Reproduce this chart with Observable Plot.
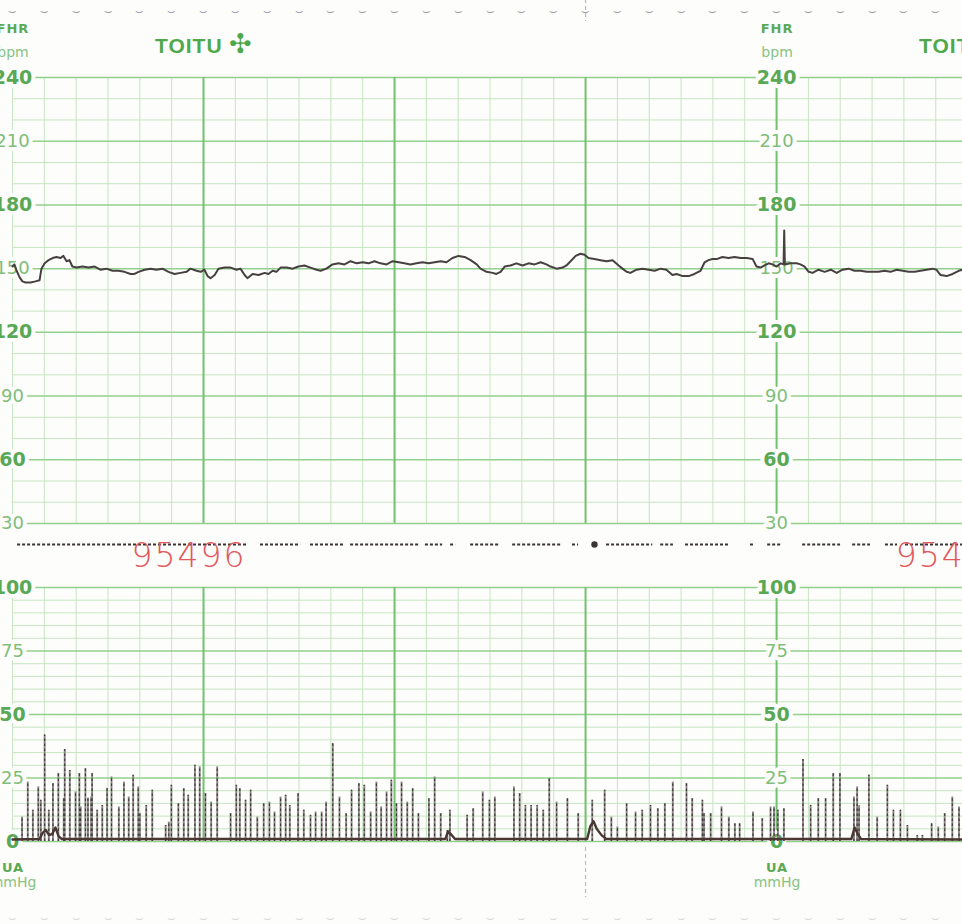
<!DOCTYPE html>
<html>
<head>
<meta charset="utf-8">
<script src="https://cdn.jsdelivr.net/npm/d3@7"></script>
<script src="https://cdn.jsdelivr.net/npm/@observablehq/plot@0.6"></script>
<style>
  html, body { margin: 0; padding: 0; background: #fdfdfb; }
  #page { position: relative; width: 962px; height: 924px; overflow: hidden; background: #fdfdfb; }
  #page > svg { position: absolute; left: 0; }
  .lbl { position: absolute; white-space: nowrap; line-height: 1; font-family: "DejaVu Sans", sans-serif; }
  .ctr { transform: translateX(-50%); text-align: center; }
  .head { color: #5aa957; font-weight: bold; font-size: 13px; letter-spacing: 1px; }
  .unit { color: #86c382; font-size: 14px; }
  .brand { color: #4fa84b; font-family: "Liberation Sans", Arial, sans-serif; font-weight: bold; font-size: 21px; letter-spacing: 1px; }
  .logo { color: #4fa84b; font-size: 27px; }
</style>
</head>
<body>
<div id="page"></div>
<script>
// ---------- DATA (time in seconds from the left edge of the strip) ----------
const xDomain = [0, 298.4];

// Grid
const gridMinorSec = [0, 10, 20, 30, 40, 50, 70, 80, 90, 100, 110, 130, 140, 150, 160, 170, 190, 200, 210, 220, 230, 250, 260, 270, 280, 290];
const gridMajorSec = [60, 120, 180, 240];
const fhrMinor = [40, 50, 70, 80, 100, 110, 130, 140, 160, 170, 190, 200, 220, 230];
const fhrMajor = [30, 60, 90, 120, 150, 180, 210, 240];
const uaMinor = [5, 10, 15, 20, 30, 35, 40, 45, 55, 60, 65, 70, 80, 85, 90, 95];
const uaMajor = [0, 25, 50, 75, 100];

// Tick labels (printed at two columns of the paper)
const labelColumns = [0, 240];
const fhrLabelStrong = [60, 120, 180, 240];
const fhrLabelLight = [30, 90, 150, 210];
const uaLabelStrong = [0, 50, 100];
const uaLabelLight = [25, 75];

// Perforation marks along the paper edges
const perforationSec = [0, 10, 20, 30, 40, 50, 60, 70, 80, 90, 100, 110, 120, 130, 140, 150, 160, 170, 180, 190, 200, 210, 220, 230, 240, 250, 260, 270, 280, 290];
const foldSec = [180];

// Printed page numbers and brand
const serialSec = [37.4, 277.4];
const serialText = "95496";
const brandSec = [44.9, 284.9];
const brandText = "TOITU";

// Fetal heart rate trace [seconds, bpm]
const fhrTrace = [[0,151],[0.6,152],[1.3,149],[2.2,146],[3.1,144],[4.1,143.5],[5.7,143.5],[7.2,144],[8.5,144.5],[9.1,150],[10.1,152.5],[11.3,154],[12.6,155],[13.8,155.5],[15.1,155],[16.0,156],[17.0,153.5],[17.9,154],[18.8,151],[20.1,150.5],[22.0,151],[23.9,150.5],[25.8,151],[27.6,149.5],[29.5,150],[31.4,149],[33.3,149],[35.2,148.5],[37.1,147.5],[38.3,147.5],[39.6,148.5],[41.5,149.5],[43.4,150],[45.2,149.5],[47.1,150],[49.0,148.5],[50.9,147.5],[52.8,148],[54.7,148.5],[55.9,150],[57.8,149],[59.1,148.5],[60.3,149.5],[61.3,146.5],[62.2,145.5],[63.5,147],[64.7,150],[66.6,150.5],[68.5,150.5],[70.4,149.5],[71.6,150],[72.9,147],[73.8,145.5],[75.4,147.5],[77.3,147],[79.2,148],[80.4,147.5],[81.7,149],[82.9,148.5],[84.2,150.5],[86.1,150.5],[88.0,150],[89.8,151],[91.7,151.5],[93.6,150.5],[95.5,149.5],[96.8,149],[98.6,150],[100.5,152],[102.4,152.5],[104.3,152],[106.2,153.5],[108.1,152.5],[110.0,153],[111.8,152.5],[113.7,153.5],[115.6,152.5],[117.5,152],[119.4,153.5],[121.3,153],[123.1,152.5],[125.0,152],[126.9,152.5],[128.8,153],[130.7,152.5],[132.6,153],[134.5,153.5],[136.3,153],[138.2,155],[140.1,156],[142.0,155.5],[143.9,154],[145.8,152],[147.0,150],[148.9,148.5],[150.8,148],[152.0,147.5],[153.3,148.5],[154.6,151],[156.4,151.5],[158.3,152.5],[160.2,151.5],[162.1,152.5],[164.0,152],[165.9,153],[167.7,152],[169.0,151],[170.9,150],[172.8,150.5],[174.0,151.5],[175.3,153.5],[176.9,156],[178.4,157],[179.7,156.5],[180.9,155],[182.8,154.5],[184.7,154],[186.6,153.5],[188.5,154],[190.4,151.5],[191.6,150],[192.9,148.5],[194.1,148],[196.0,149.5],[197.9,150],[199.8,149.5],[201.7,149],[203.6,150],[205.4,149.5],[207.3,147],[208.6,147.5],[210.5,146.5],[212.4,146.5],[214.2,147.5],[216.1,149],[217.4,153],[218.6,154],[219.9,154.5],[221.2,154.5],[223.0,155.5],[224.9,155],[226.8,155.5],[228.7,155],[230.6,155],[232.5,154.5],[233.7,151],[235.0,150.5],[236.2,151.5],[237.5,152.5],[238.7,152],[240.0,151],[241.3,152.5],[242.2,152],[242.4,168],[242.6,152],[244.3,152.5],[246.3,152.5],[247.5,152],[248.8,151],[250.1,148.5],[251.3,148],[253.2,149.5],[255.1,148.5],[257.0,149.5],[258.9,148],[260.7,149.5],[262.6,150],[264.5,149],[266.4,149],[268.3,148.5],[270.2,148.5],[272.0,148.5],[273.9,149],[275.8,148.5],[277.7,149.5],[279.6,149],[281.5,148.5],[283.4,148.5],[285.2,149],[287.1,149.5],[289.0,150],[290.2,149.5],[291.5,147],[293.4,146.5],[295.3,147.5],[297.2,149],[298.4,149.5]];

// Event marker segments between the panels [start s, end s]
const eventMarks = [[1.6,33.3],[33.3,74.1],[77.9,90.5],[93.6,104.6],[106.2,128.2],[129.7,135.1],[137.6,139.2],[143.9,153.3],[157.1,172.2],[175.9,177.8],[186.6,201.1],[203.6,207.6],[211.4,225.5],[231.8,232.8],[237.2,241.3],[248.2,260.1],[263.9,269.5],[274.2,278.0],[280.5,298.4]];
const eventDots = [182.8];

// Uterine activity: spike peaks [seconds, mmHg]
const uaPeaks = [[3.0,9.6],[4.8,23.4],[6.4,12.3],[8.1,21.5],[8.9,16.2],[10.1,41.9],[11.4,12.3],[12.7,22.8],[14.4,26.8],[16.1,16.9],[16.4,36.2],[18.0,28],[19.8,19.5],[21.0,26.8],[21.4,13.6],[22.9,28.7],[23.7,17],[24.7,17.5],[25.0,26.8],[26.6,12.3],[28.2,14.2],[29.7,20.9],[31.1,25.4],[33.4,13.6],[35.0,23.4],[36.5,17.5],[37.9,26.1],[39.5,21.5],[40.0,11],[42.0,14.2],[43.9,20.2],[48.1,6.3],[49.1,7.6],[49.9,22.1],[52.1,14.9],[53.8,20.8],[55.2,18.2],[57.3,30],[58.8,29.4],[60.6,18.9],[62.4,15.5],[64.3,29.4],[68.5,11],[70.3,22.1],[71.4,20.8],[73.2,16.2],[74.8,20.2],[76.9,9.6],[78.9,14.9],[80.7,15.5],[82.3,11.6],[84.2,17.5],[85.8,18.2],[87.1,14.2],[89.7,18.9],[91.5,12.3],[93.6,10.3],[95.2,11.6],[97.1,11.6],[98.5,15.5],[100.6,38.6],[102.7,17.5],[104.8,11],[106.5,20.2],[108.8,22.8],[110.5,22.1],[112.5,11.6],[114.3,23.4],[115.8,13.6],[117.5,19.5],[119.0,24.1],[120.6,14.9],[122.2,23.4],[124.0,15.5],[125.7,20.8],[127.5,11],[130.8,16.9],[132.6,25.4],[134.5,11],[136.6,4.3],[137.4,12.3],[142.8,10.3],[144.7,12.9],[147.7,19.5],[149.8,16.2],[151.5,17.5],[157.5,21.5],[159.3,18.9],[161.1,14.2],[162.9,14.2],[164.8,14.2],[166.7,12.3],[168.6,24.8],[170.9,15.5],[174.3,16.9],[177.7,11],[182.1,16.2],[186.0,20.2],[188.1,9.6],[190.0,5.7],[192.9,14.9],[195.7,11.6],[197.8,12.3],[200.4,14.2],[202.7,12.9],[204.9,14.9],[207.4,23.4],[211.7,22.8],[213.5,16.9],[216.7,16.2],[217.2,11],[219.3,11],[222.7,13.6],[225.0,9.6],[226.9,7],[228.4,7],[232.6,11.6],[235.5,9],[238.1,13.6],[239.2,13.6],[240.4,12.3],[242.3,12.9],[248.3,32.3],[250.7,14.2],[253.1,16.9],[255.4,16.9],[257.8,26.8],[259.9,26.8],[264.3,17.5],[265.3,21.5],[265.9,14],[269.0,26.1],[271.6,9.6],[274.8,22.1],[276.7,12.3],[278.9,12.3],[281.1,6.3],[284.2,2.4],[285.8,2.4],[288.7,7],[290.8,5.7],[292.8,11],[295.2,17.5],[297.3,13.6]];
// Uterine activity: resting trace with small bumps [seconds, mmHg]
const uaBase = [[0,0.8],[8.5,1],[9.5,3.5],[10.5,4.5],[11.5,2.5],[12.5,3],[13.5,5.5],[14.5,2],[15.5,1],[136,1],[136.8,4],[138,2.5],[139,1],[180.5,1],[181.5,6],[182.5,8],[183.5,5],[185,2.5],[186.5,1],[263.5,1],[264.5,5.5],[265.5,3],[266.5,1],[298.4,0.8]];

// ---------- STYLE ----------
const BG = "#fdfdfb";
const GRID_MINOR = "#c6e5c1";
const GRID_MAJOR_H = "#93cf8d";
const GRID_MAJOR_V = "#72c16f";
const LABEL_STRONG = "#58a855";
const LABEL_LIGHT = "#7fbe7b";
const TRACE = "#474040";
const FONT = "DejaVu Sans, sans-serif";

const page = document.getElementById("page");
const common = {
  width: 962, marginLeft: 12, marginRight: 0,
  x: {domain: xDomain, axis: null},
  style: {background: "transparent", overflow: "visible"}
};
function place(svg, top) { svg.style.top = top + "px"; page.appendChild(svg); return svg; }

function labelMarks(strong, light, sizeStrong, sizeLight) {
  return [
    Plot.text(d3.cross(labelColumns, light), {x: d => d[0], y: d => d[1], text: d => String(d[1]),
      fill: LABEL_LIGHT, stroke: BG, strokeWidth: 8, paintOrder: "stroke", fontSize: sizeLight, fontFamily: FONT}),
    Plot.text(d3.cross(labelColumns, strong), {x: d => d[0], y: d => d[1], text: d => String(d[1]),
      fill: LABEL_STRONG, stroke: BG, strokeWidth: 8, paintOrder: "stroke", fontSize: sizeStrong, fontWeight: "bold", fontFamily: FONT})
  ];
}

// Top edge strip: perforations + fold
const topStrip = Plot.plot({
  ...common, height: 22, marginTop: 0, marginBottom: 0,
  marks: [
    Plot.ruleX(foldSec, {stroke: "#b8b8b8", strokeWidth: 1.2, strokeDasharray: "4,3"}),
    Plot.text(perforationSec, {x: d => d, text: () => "\u2323", fill: "#a0a0a0", fontSize: 13, fontFamily: FONT})
  ]
});
place(topStrip, -1);

// FHR panel
const fhrPlot = Plot.plot({
  ...common, height: 530, marginTop: 77, marginBottom: 7,
  y: {domain: [30, 240], axis: null},
  marks: [
    Plot.ruleX(gridMinorSec, {stroke: GRID_MINOR, strokeWidth: 1}),
    Plot.ruleY(fhrMinor, {stroke: GRID_MINOR, strokeWidth: 1}),
    Plot.ruleY(fhrMajor, {stroke: GRID_MAJOR_H, strokeWidth: 1.5}),
    Plot.ruleX(gridMajorSec, {stroke: GRID_MAJOR_V, strokeWidth: 2}),
    ...labelMarks(fhrLabelStrong, fhrLabelLight, 19, 18),
    Plot.line(fhrTrace, {x: d => d[0], y: d => d[1], stroke: TRACE, strokeWidth: 2, strokeLinejoin: "round"})
  ]
});
place(fhrPlot, 0);

// Event marker strip + page number
const eventStrip = Plot.plot({
  ...common, height: 10, marginTop: 0, marginBottom: 0,
  marks: [
    Plot.ruleY(eventMarks, {x1: d => d[0], x2: d => d[1], y: null, stroke: "#3a3434", strokeWidth: 2, strokeDasharray: "3,2"}),
    Plot.dot(eventDots, {x: d => d, r: 3.2, fill: "#3a3434"})
  ]
});
place(eventStrip, 539);

const serialStrip = Plot.plot({
  ...common, height: 30, marginTop: 0, marginBottom: 0,
  marks: [
    Plot.text(serialSec, {x: d => d, text: () => serialText, textAnchor: "start", fill: "#e3585c",
      fontSize: 33, fontFamily: FONT, fontWeight: 300})
  ]
});
serialStrip.style.letterSpacing = "2px";
place(serialStrip, 541);

// UA panel
const uaPlot = Plot.plot({
  ...common, height: 300, marginTop: 27, marginBottom: 19,
  y: {domain: [0, 100], axis: null},
  marks: [
    Plot.ruleX(gridMinorSec, {stroke: GRID_MINOR, strokeWidth: 1}),
    Plot.ruleY(uaMinor, {stroke: GRID_MINOR, strokeWidth: 1}),
    Plot.ruleY(uaMajor, {stroke: GRID_MAJOR_H, strokeWidth: 1.5}),
    Plot.ruleX(gridMajorSec, {stroke: GRID_MAJOR_V, strokeWidth: 2}),
    ...labelMarks(uaLabelStrong, uaLabelLight, 19, 18),
    Plot.ruleX(uaPeaks, {x: d => d[0], y1: 0, y2: d => d[1], stroke: "#8b8585", strokeWidth: 1.9}),
    Plot.ruleX(uaPeaks, {x: d => d[0], y1: 0, y2: d => d[1], stroke: "#3c3535", strokeWidth: 1.1, strokeDasharray: "2.5,2.5"}),
    Plot.line(uaBase, {x: d => d[0], y: d => d[1], stroke: "#4a3632", strokeWidth: 2.4, strokeLinejoin: "round"})
  ]
});
place(uaPlot, 560);

// Bottom strip: fold continuation + faint perforations
const bottomStrip = Plot.plot({
  ...common, height: 50, marginTop: 0, marginBottom: 0,
  marks: [Plot.ruleX(foldSec, {stroke: "#bdbdbd", strokeWidth: 1.2, strokeDasharray: "4,3"})]
});
place(bottomStrip, 847);
const bottomPerf = Plot.plot({
  ...common, height: 14, marginTop: 0, marginBottom: 0,
  marks: [Plot.text(perforationSec, {x: d => d, text: () => "\u2323", fill: "#dadada", fontSize: 13, fontFamily: FONT})]
});
place(bottomPerf, 910);

// Header / footer texts positioned through the x scale
const xs = fhrPlot.scale("x");
function addLabel(text, left, top, cls) {
  const d = document.createElement("div");
  d.className = "lbl " + cls;
  d.textContent = text;
  d.style.left = left + "px";
  d.style.top = top + "px";
  page.appendChild(d);
}
for (const c of labelColumns) {
  const cx = xs.apply(c) + 1;
  addLabel("FHR", cx, 22, "ctr head");
  addLabel("bpm", cx, 45, "ctr unit");
  addLabel("UA", cx, 861, "ctr head");
  addLabel("mmHg", cx, 875, "ctr unit");
}
for (const b of brandSec) {
  const lx = xs.apply(b);
  addLabel(brandText, lx, 35, "brand");
  addLabel("\u2723", lx + 74, 30, "logo");
}
</script>
</body>
</html>
